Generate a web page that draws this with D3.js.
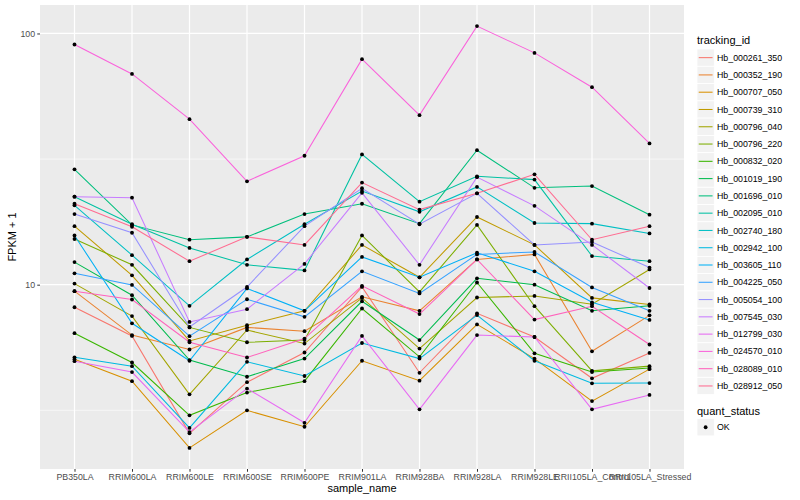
<!DOCTYPE html>
<html>
<head>
<meta charset="utf-8">
<script src="https://cdnjs.cloudflare.com/ajax/libs/d3/7.8.5/d3.min.js"></script>
<style>
  body { margin: 0; background: #fff; }
  svg text { font-family: "Liberation Sans", Arial, Helvetica, sans-serif; }
</style>
</head>
<body>
<svg id="chart" width="800" height="500"></svg>
<script>
// x categories
const samples = ["PB350LA", "RRIM600LA", "RRIM600LE", "RRIM600SE", "RRIM600PE", "RRIM901LA",
  "RRIM928BA", "RRIM928LA", "RRIM928LE", "RRII105LA_Control", "RRII105LA_Stressed"];

const trackingIds = ["Hb_000261_350", "Hb_000352_190", "Hb_000707_050", "Hb_000739_310", "Hb_000796_040",
  "Hb_000796_220", "Hb_000832_020", "Hb_001019_190", "Hb_001696_010", "Hb_002095_010",
  "Hb_002740_180", "Hb_002942_100", "Hb_003605_110", "Hb_004225_050", "Hb_005054_100",
  "Hb_007545_030", "Hb_012799_030", "Hb_024570_010", "Hb_028089_010", "Hb_028912_050"];

// ggplot default hue palette, 20 levels
const palette = ["#F8766D", "#EA8331", "#D89000", "#C09B00", "#A3A500", "#7CAE00", "#39B600", "#00BB4E",
  "#00BF7D", "#00C1A3", "#00BFC4", "#00BAE0", "#00B0F6", "#35A2FF", "#9590FF", "#C77CFF",
  "#E76BF3", "#FA62DB", "#FF62BC", "#FF6C91"];

// FPKM + 1, one value per sample
const hb_000261_350 = [8.13, 6.25, 2.56, 4.09, 5.37, 9.80, 4.46, 7.69, 6.19, 4.24, 5.35];
const hb_000352_190 = [9.42, 6.30, 5.52, 6.76, 6.53, 8.95, 7.87, 12.6, 13.2, 5.43, 7.55];
const hb_000707_050 = [5.05, 4.13, 2.24, 3.16, 2.72, 4.98, 4.15, 6.95, 5.08, 3.44, 4.61];
const hb_000739_310 = [17.1, 10.9, 5.97, 6.90, 7.87, 14.4, 10.7, 18.6, 14.4, 8.86, 8.34];
const hb_000796_040 = [10.1, 7.50, 3.66, 6.60, 5.83, 8.86, 5.57, 8.89, 9.02, 8.36, 11.5];
const hb_000796_220 = [15.2, 12.0, 6.76, 5.90, 6.02, 15.7, 9.36, 17.3, 8.21, 4.54, 4.74];
const hb_000832_020 = [6.41, 4.90, 3.02, 3.72, 4.13, 8.04, 5.16, 10.2, 5.33, 4.49, 4.66];
const hb_001019_190 = [12.3, 9.08, 5.01, 4.30, 5.08, 8.59, 6.02, 10.6, 10.0, 7.87, 8.24];
const hb_001696_010 = [28.8, 17.3, 15.1, 15.5, 19.1, 21.0, 17.5, 34.3, 24.3, 24.7, 19.0];
const hb_002095_010 = [22.4, 17.4, 14.0, 12.0, 11.4, 33.0, 21.4, 27.0, 26.2, 13.0, 12.4];
const hb_002740_180 = [20.7, 13.1, 8.24, 12.6, 17.4, 23.6, 19.5, 24.5, 17.6, 17.5, 16.0];
const hb_002942_100 = [5.14, 4.74, 2.69, 4.93, 4.33, 5.86, 5.08, 7.57, 4.98, 4.05, 4.06];
const hb_003605_110 = [15.7, 7.02, 4.98, 9.66, 7.87, 12.9, 10.7, 13.4, 11.3, 8.51, 7.24];
const hb_004225_050 = [11.1, 9.98, 6.24, 8.75, 7.45, 11.3, 9.23, 13.2, 13.5, 9.75, 7.87];
const hb_005054_100 = [19.1, 16.1, 6.79, 9.79, 17.1, 24.2, 17.4, 23.1, 14.4, 14.8, 11.7];
const hb_007545_030 = [22.4, 22.2, 7.11, 7.99, 12.1, 23.2, 12.0, 26.8, 20.6, 14.4, 9.70];
const hb_012799_030 = [4.96, 4.49, 2.59, 3.86, 2.82, 6.25, 3.19, 6.30, 6.19, 3.19, 3.64];
const hb_024570_010 = [90.4, 69.0, 45.6, 25.8, 32.6, 79.0, 47.3, 107, 83.7, 61.1, 36.5];
const hb_028089_010 = [9.42, 8.73, 5.90, 5.13, 6.10, 9.89, 7.64, 12.6, 7.26, 8.21, 5.78];
const hb_028912_050 = [21.0, 17.0, 12.4, 15.5, 14.4, 25.5, 19.9, 23.1, 27.5, 15.1, 17.1];

const fpkm = [hb_000261_350, hb_000352_190, hb_000707_050, hb_000739_310, hb_000796_040,
  hb_000796_220, hb_000832_020, hb_001019_190, hb_001696_010, hb_002095_010,
  hb_002740_180, hb_002942_100, hb_003605_110, hb_004225_050, hb_005054_100,
  hb_007545_030, hb_012799_030, hb_024570_010, hb_028089_010, hb_028912_050];

const yTicks = [10, 100];
const yMinorTicks = [3.162, 31.62];
const quantStatus = ["OK"];

const panel = {left: 40, right: 684, top: 5, bottom: 469};
const svg = d3.select("#chart");

const series = trackingIds.map((id, i) => ({
  id: id,
  color: palette[i],
  values: fpkm[i].map((v, j) => ({sample: samples[j], v: v}))
}));

// log scale with 5% expansion like ggplot
const ext = d3.extent(fpkm.flat()).map(Math.log10);
const pad = (ext[1] - ext[0]) * 0.05;
const y = d3.scaleLog()
  .domain([Math.pow(10, ext[0] - pad), Math.pow(10, ext[1] + pad)])
  .range([panel.bottom, panel.top]);
const x = d3.scalePoint().domain(samples).range([panel.left, panel.right]).padding(0.6);

// panel + grid
svg.append("rect")
  .attr("x", panel.left).attr("y", panel.top)
  .attr("width", panel.right - panel.left).attr("height", panel.bottom - panel.top)
  .attr("fill", "#EBEBEB");

svg.append("g").selectAll("line").data(yMinorTicks).join("line")
  .attr("x1", panel.left).attr("x2", panel.right)
  .attr("y1", d => y(d)).attr("y2", d => y(d))
  .attr("stroke", "#fff").attr("stroke-width", 0.6);

svg.append("g").selectAll("line").data(yTicks).join("line")
  .attr("x1", panel.left).attr("x2", panel.right)
  .attr("y1", d => y(d)).attr("y2", d => y(d))
  .attr("stroke", "#fff").attr("stroke-width", 1.2);

svg.append("g").selectAll("line").data(samples).join("line")
  .attr("x1", d => x(d)).attr("x2", d => x(d))
  .attr("y1", panel.top).attr("y2", panel.bottom)
  .attr("stroke", "#fff").attr("stroke-width", 1.2);

// lines
const line = d3.line().x(d => x(d.sample)).y(d => y(d.v));
svg.append("g").selectAll("path").data(series).join("path")
  .attr("d", d => line(d.values))
  .attr("fill", "none")
  .attr("stroke", d => d.color)
  .attr("stroke-width", 1.05);

// points
svg.append("g").selectAll("circle").data(series.flatMap(s => s.values)).join("circle")
  .attr("cx", d => x(d.sample)).attr("cy", d => y(d.v))
  .attr("r", 1.9).attr("fill", "#000");

// axes
const xAxis = svg.append("g").attr("transform", `translate(0,${panel.bottom})`)
  .call(d3.axisBottom(x).tickSize(2.75).tickPadding(2.2));
const yAxis = svg.append("g").attr("transform", `translate(${panel.left},0)`)
  .call(d3.axisLeft(y).tickValues(yTicks).tickFormat(d3.format("d")).tickSize(2.75).tickPadding(2.2));
[xAxis, yAxis].forEach(a => {
  a.select(".domain").remove();
  a.selectAll(".tick line").attr("stroke", "#333333");
  a.selectAll(".tick text").attr("fill", "#4D4D4D").style("font-size", "8.8px");
});

svg.append("text")
  .attr("x", (panel.left + panel.right) / 2).attr("y", 492)
  .attr("text-anchor", "middle").style("font-size", "11px")
  .text("sample_name");

svg.append("text")
  .attr("transform", `translate(16,${(panel.top + panel.bottom) / 2}) rotate(-90)`)
  .attr("text-anchor", "middle").style("font-size", "11px")
  .text("FPKM + 1");

// legend: tracking_id
const key = 17.28;
const lg = svg.append("g").attr("transform", "translate(697,0)");
lg.append("text").attr("x", 0).attr("y", 44).style("font-size", "11px").text("tracking_id");
const items = lg.selectAll("g.key").data(series).join("g")
  .attr("class", "key")
  .attr("transform", (d, i) => `translate(0,${49 + i * key})`);
items.append("rect").attr("width", key).attr("height", key)
  .attr("fill", "#F2F2F2").attr("stroke", "#fff").attr("stroke-width", 0.8);
items.append("line")
  .attr("x1", key * 0.1).attr("x2", key * 0.9)
  .attr("y1", key / 2).attr("y2", key / 2)
  .attr("stroke", d => d.color).attr("stroke-width", 1.05);
items.append("text").attr("x", 20).attr("y", key / 2).attr("dy", "0.35em")
  .style("font-size", "8.8px").text(d => d.id);

// legend: quant_status
const lq = svg.append("g").attr("transform", "translate(697,0)");
lq.append("text").attr("x", 0).attr("y", 414.5).style("font-size", "11px").text("quant_status");
const qItems = lq.selectAll("g.qkey").data(quantStatus).join("g")
  .attr("class", "qkey")
  .attr("transform", (d, i) => `translate(0,${418.6 + i * key})`);
qItems.append("rect").attr("width", key).attr("height", key)
  .attr("fill", "#F2F2F2").attr("stroke", "#fff").attr("stroke-width", 0.8);
qItems.append("circle").attr("cx", key / 2).attr("cy", key / 2).attr("r", 1.9).attr("fill", "#000");
qItems.append("text").attr("x", 20).attr("y", key / 2).attr("dy", "0.35em")
  .style("font-size", "8.8px").text(d => d);
</script>
</body>
</html>
